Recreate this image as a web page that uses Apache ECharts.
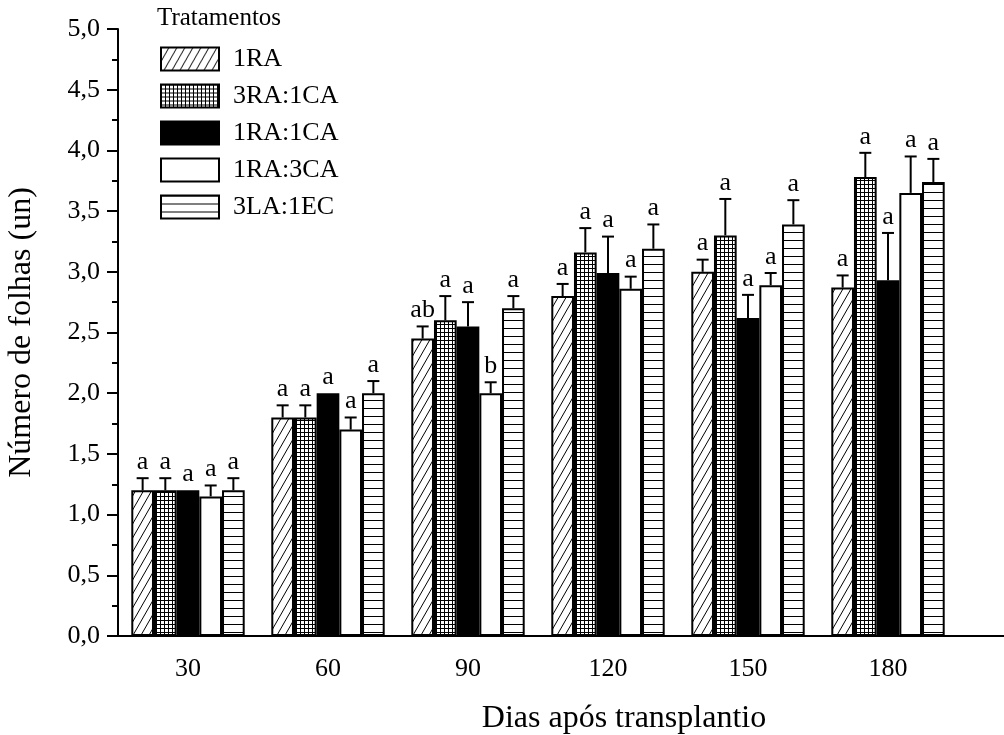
<!DOCTYPE html>
<html>
<head>
<meta charset="utf-8">
<script src="https://cdn.jsdelivr.net/npm/echarts@6/dist/echarts.min.js"></script>
<style>html,body{margin:0;padding:0;background:#fff}#c{width:1004px;height:735px}</style>
</head>
<body>
<div id="c"></div>
<script>
const categories = ['30', '60', '90', '120', '150', '180'];
const treatments = ['1RA', '3RA:1CA', '1RA:1CA', '1RA:3CA', '3LA:1EC'];
const yTicks = ['0,0','0,5','1,0','1,5','2,0','2,5','3,0','3,5','4,0','4,5','5,0'];

const vals1RA    = [1.20, 1.80, 2.45, 2.80, 3.00, 2.87];
const vals3RA1CA = [1.20, 1.80, 2.60, 3.16, 3.30, 3.78];
const vals1RA1CA = [1.20, 2.00, 2.55, 2.99, 2.62, 2.93];
const vals1RA3CA = [1.15, 1.70, 2.00, 2.86, 2.89, 3.65];
const vals3LA1EC = [1.20, 2.00, 2.70, 3.19, 3.39, 3.74];

const err1RA    = [0.10, 0.10, 0.10, 0.10, 0.10, 0.10];
const err3RA1CA = [0.10, 0.10, 0.20, 0.20, 0.30, 0.20];
const err1RA1CA = [0.00, 0.00, 0.20, 0.30, 0.19, 0.39];
const err1RA3CA = [0.09, 0.10, 0.09, 0.10, 0.10, 0.30];
const err3LA1EC = [0.10, 0.10, 0.10, 0.20, 0.20, 0.19];

const let1RA    = ['a', 'a', 'ab', 'a', 'a', 'a'];
const let3RA1CA = ['a', 'a', 'a', 'a', 'a', 'a'];
const let1RA1CA = ['a', 'a', 'a', 'a', 'a', 'a'];
const let1RA3CA = ['a', 'a', 'b', 'a', 'a', 'a'];
const let3LA1EC = ['a', 'a', 'a', 'a', 'a', 'a'];

const allVals = [vals1RA, vals3RA1CA, vals1RA1CA, vals1RA3CA, vals3LA1EC];
const allErrs = [err1RA, err3RA1CA, err1RA1CA, err1RA3CA, err3LA1EC];
const allLets = [let1RA, let3RA1CA, let1RA1CA, let1RA3CA, let3LA1EC];

const FONT = 'Liberation Serif';
const CAT_GAP = 0.19;

function tile(w, h, draw) {
  const c = document.createElement('canvas');
  c.width = w; c.height = h;
  const g = c.getContext('2d');
  g.fillStyle = '#fff'; g.fillRect(0, 0, w, h);
  g.strokeStyle = '#000'; g.lineWidth = 1;
  draw(g, w, h);
  return { image: c, repeat: 'repeat' };
}
const patDiag = tile(8, 14, (g, w, h) => {
  [-w, 0, w].forEach(o => {
    g.beginPath(); g.moveTo(o - 2, h + 3.5); g.lineTo(o + w + 2, -3.5); g.stroke();
  });
});
const patGrid = tile(4, 4, (g) => {
  g.beginPath(); g.moveTo(0.5, 0); g.lineTo(0.5, 4); g.moveTo(0, 0.5); g.lineTo(4, 0.5); g.stroke();
});
const patHoriz = tile(8, 8, (g) => {
  g.beginPath(); g.moveTo(0, 0.5); g.lineTo(8, 0.5); g.stroke();
});
const fills = [patDiag, patGrid, '#000', '#fff', patHoriz];

const series = [];
treatments.forEach((name, k) => {
  series.push({
    name: name, type: 'bar', xAxisIndex: 0, yAxisIndex: 0,
    data: allVals[k], barGap: 0, barCategoryGap: (CAT_GAP * 100) + '%',
    itemStyle: { color: fills[k], borderColor: '#000', borderWidth: 2 },
    emphasis: { disabled: true }, animation: false
  });
});
treatments.forEach((name, k) => {
  series.push({
    type: 'custom', coordinateSystem: 'cartesian2d', xAxisIndex: 0, yAxisIndex: 0,
    data: allVals[k].map((v, i) => [i, v, allErrs[k][i]]),
    clip: false, z: 5, animation: false, silent: true,
    renderItem: function (params, api) {
      const ci = api.value(0), v = api.value(1), e = api.value(2);
      const top = api.coord([ci, v]);
      const hi = api.coord([ci, v + e]);
      const band = api.size([1, 0])[0];
      const bw = band * (1 - CAT_GAP) / treatments.length;
      const x = top[0] + (k - (treatments.length - 1) / 2) * bw;
      const children = [];
      if (e > 0) {
        children.push({ type: 'line', shape: { x1: x, y1: top[1], x2: x, y2: hi[1] }, style: { stroke: '#000', lineWidth: 2 } });
        children.push({ type: 'line', shape: { x1: x - 6, y1: hi[1], x2: x + 6, y2: hi[1] }, style: { stroke: '#000', lineWidth: 2 } });
      }
      children.push({ type: 'text', x: x, y: hi[1] - 3,
        style: { text: allLets[k][params.dataIndex], font: '26px "' + FONT + '"', fill: '#000', align: 'center', verticalAlign: 'bottom' } });
      return { type: 'group', children: children };
    }
  });
});

const option = {
  animation: false,
  backgroundColor: '#fff',
  textStyle: { fontFamily: FONT, color: '#000' },
  title: [
    { text: 'Tratamentos', left: 157, top: 6, padding: 0,
      textStyle: { fontFamily: FONT, fontSize: 25, fontWeight: 'normal', color: '#000' } },
    { text: 'Dias após transplantio', left: 624, top: 703, padding: 0, textAlign: 'center',
      textStyle: { fontFamily: FONT, fontSize: 32, fontWeight: 'normal', color: '#000' } }
  ],
  legend: {
    data: treatments, orient: 'vertical', left: 160, top: 46, padding: 0,
    itemWidth: 58, itemHeight: 23, itemGap: 11, icon: 'rect',
    textStyle: { fontFamily: FONT, fontSize: 26, color: '#000', padding: [0, 0, 0, 9] },
    selectedMode: false
  },
  grid: { left: 118, top: 29, bottom: 99, width: 980, containLabel: false, outerBoundsMode: 'none' },
  xAxis: [
    { type: 'category', data: categories.concat(['']), position: 'bottom',
      axisLine: { lineStyle: { color: '#000', width: 2 } },
      axisTick: { alignWithLabel: true, length: 12, lineStyle: { color: '#000', width: 2 } },
      axisLabel: { margin: 20, fontFamily: FONT, fontSize: 26, color: '#000' },
      splitLine: { show: false } },
    { type: 'category', data: categories.concat(['']), position: 'bottom',
      axisLine: { show: false },
      axisTick: { alignWithLabel: false, length: 6, lineStyle: { color: '#000', width: 2 } },
      axisLabel: { show: false }, splitLine: { show: false } }
  ],
  yAxis: {
    type: 'value', min: 0, max: 5, interval: 0.5,
    name: 'Número de folhas (un)', nameLocation: 'middle', nameGap: 80,
    nameTextStyle: { fontFamily: FONT, fontSize: 32, color: '#000' },
    axisLine: { show: true, lineStyle: { color: '#000', width: 2 } },
    axisTick: { show: true, length: 11, lineStyle: { color: '#000', width: 2 } },
    minorTick: { show: true, splitNumber: 2, length: 6, lineStyle: { color: '#000', width: 2 } },
    axisLabel: { margin: 18, fontFamily: FONT, fontSize: 26, color: '#000',
      formatter: (v) => yTicks[Math.round(v / 0.5)] },
    splitLine: { show: false }
  },
  series: series
};

const chart = echarts.init(document.getElementById('c'), null, { renderer: 'canvas' });
chart.setOption(option);
</script>
</body>
</html>
